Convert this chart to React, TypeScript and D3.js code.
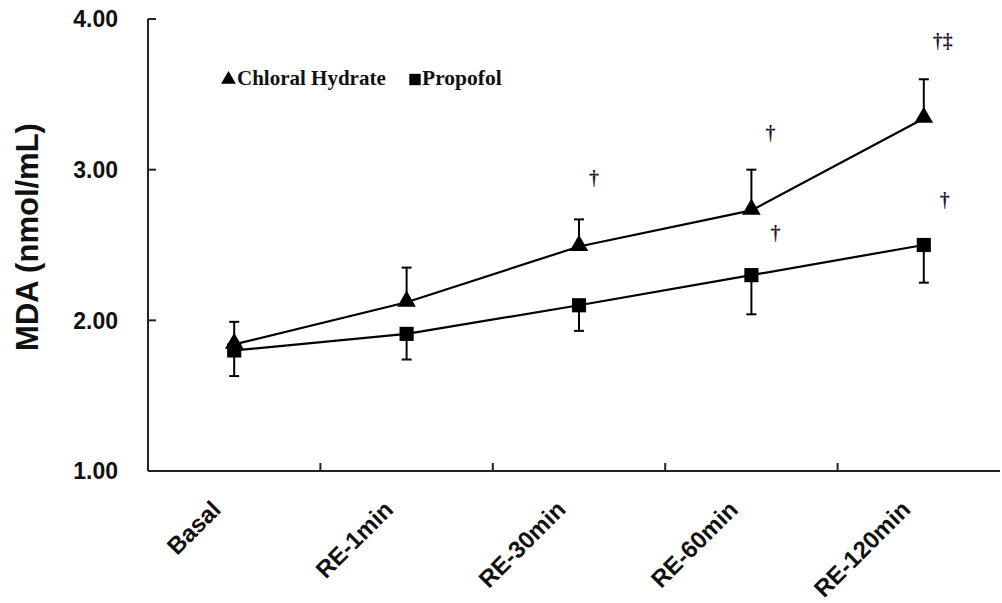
import React from "react";
import * as d3 from "d3";

const categories = ["Basal", "RE-1min", "RE-30min", "RE-60min", "RE-120min"];
const chloralMean = [1.84, 2.12, 2.49, 2.73, 3.34];
const chloralSD = [0.15, 0.23, 0.18, 0.27, 0.26];
const propofolMean = [1.8, 1.91, 2.1, 2.3, 2.5];
const propofolSD = [0.17, 0.17, 0.17, 0.26, 0.25];
const yTicks = [1, 2, 3, 4];
const annCats = ["RE-30min", "RE-60min", "RE-60min", "RE-120min", "RE-120min"];
const annValues = [2.9, 3.2, 2.53, 3.81, 2.75];
const annTexts = ["†", "†", "†", "†‡", "†"];
const annDx = [15, 19, 24, 19, 21];
const legendLabels = ["Chloral Hydrate", "Propofol"];

const W = 1002;
const H = 603;

export default function App() {
  const x = d3.scalePoint<string>().domain(categories).range([148, 1010]).padding(0.5);
  const y = d3.scaleLinear().domain([1, 4]).range([471, 19]);
  const step = x.step();
  const line = d3
    .line<number>()
    .x((_, i) => x(categories[i]) as number)
    .y((d) => y(d));
  const tri = d3.symbol().type(d3.symbolTriangle).size(150)();
  const sq = d3.symbol().type(d3.symbolSquare).size(200)();
  const legTri = d3.symbol().type(d3.symbolTriangle).size(95)();
  const legSq = d3.symbol().type(d3.symbolSquare).size(130)();
  const axisFont = "Arial, 'Liberation Sans', sans-serif";
  const serif = "'Times New Roman', 'Liberation Serif', serif";

  return (
    <svg width={W} height={H} style={{ position: "absolute", left: 0, top: 0 }}>
      <rect width={W} height={H} fill="#fff" />
      {/* axes */}
      <line x1={148} y1={y(4)} x2={148} y2={y(1)} stroke="#222" strokeWidth={2} />
      <line x1={148} y1={y(1)} x2={1000} y2={y(1)} stroke="#222" strokeWidth={2} />
      {yTicks.map((t) => (
        <g key={t}>
          <line x1={148} x2={156} y1={y(t)} y2={y(t)} stroke="#222" strokeWidth={2} />
          <text
            x={118}
            y={y(t)}
            dy="0.36em"
            textAnchor="end"
            fontFamily={axisFont}
            fontWeight="bold"
            fontSize={23}
            fill="#111"
          >
            {t.toFixed(2)}
          </text>
        </g>
      ))}
      {categories.slice(0, 4).map((c) => (
        <line
          key={c}
          x1={(x(c) as number) + step / 2}
          x2={(x(c) as number) + step / 2}
          y1={y(1)}
          y2={y(1) - 8}
          stroke="#222"
          strokeWidth={2}
        />
      ))}
      {categories.map((c) => {
        const cx = (x(c) as number) - 12;
        const cy = y(1) + 40;
        return (
          <text
            key={c}
            x={cx}
            y={cy}
            transform={`rotate(-45 ${cx} ${cy})`}
            textAnchor="end"
            fontFamily={axisFont}
            fontWeight="bold"
            fontSize={24}
            fill="#111"
          >
            {c}
          </text>
        );
      })}
      <text
        transform={`translate(38 ${237}) rotate(-90)`}
        textAnchor="middle"
        fontFamily={axisFont}
        fontWeight="bold"
        fontSize={31}
        fill="#111"
      >
        MDA (nmol/mL)
      </text>

      {/* error bars */}
      {categories.map((c, i) => {
        const cx = x(c) as number;
        const top = y(chloralMean[i] + chloralSD[i]);
        const bot = y(propofolMean[i] - propofolSD[i]);
        return (
          <g key={c} stroke="#000" strokeWidth={2}>
            <line x1={cx} x2={cx} y1={y(chloralMean[i])} y2={top} />
            <line x1={cx - 5} x2={cx + 5} y1={top} y2={top} />
            <line x1={cx} x2={cx} y1={y(propofolMean[i])} y2={bot} />
            <line x1={cx - 5} x2={cx + 5} y1={bot} y2={bot} />
          </g>
        );
      })}
      <path d={line(chloralMean) || ""} fill="none" stroke="#000" strokeWidth={2.2} />
      <path d={line(propofolMean) || ""} fill="none" stroke="#000" strokeWidth={2.2} />
      {categories.map((c, i) => (
        <path key={c} d={tri || ""} transform={`translate(${x(c)} ${y(chloralMean[i]) - 1})`} fill="#000" />
      ))}
      {categories.map((c, i) => (
        <path key={c} d={sq || ""} transform={`translate(${x(c)} ${y(propofolMean[i])})`} fill="#000" />
      ))}

      {/* significance marks */}
      {annTexts.map((t, i) => (
        <text
          key={i}
          x={(x(annCats[i]) as number) + annDx[i]}
          y={y(annValues[i])}
          textAnchor="middle"
          fontFamily={serif}
          fontWeight="bold"
          fontSize={20}
          fill="#2a1833"
        >
          {t}
        </text>
      ))}

      {/* legend */}
      <path d={legTri || ""} transform="translate(228.5 79.5)" fill="#000" />
      <text x={237} y={85} fontFamily={serif} fontWeight="bold" fontSize={21} fill="#111">
        {legendLabels[0]}
      </text>
      <path d={legSq || ""} transform="translate(415 79.5)" fill="#000" />
      <text x={422} y={85} fontFamily={serif} fontWeight="bold" fontSize={21.5} fill="#111">
        {legendLabels[1]}
      </text>
    </svg>
  );
}
